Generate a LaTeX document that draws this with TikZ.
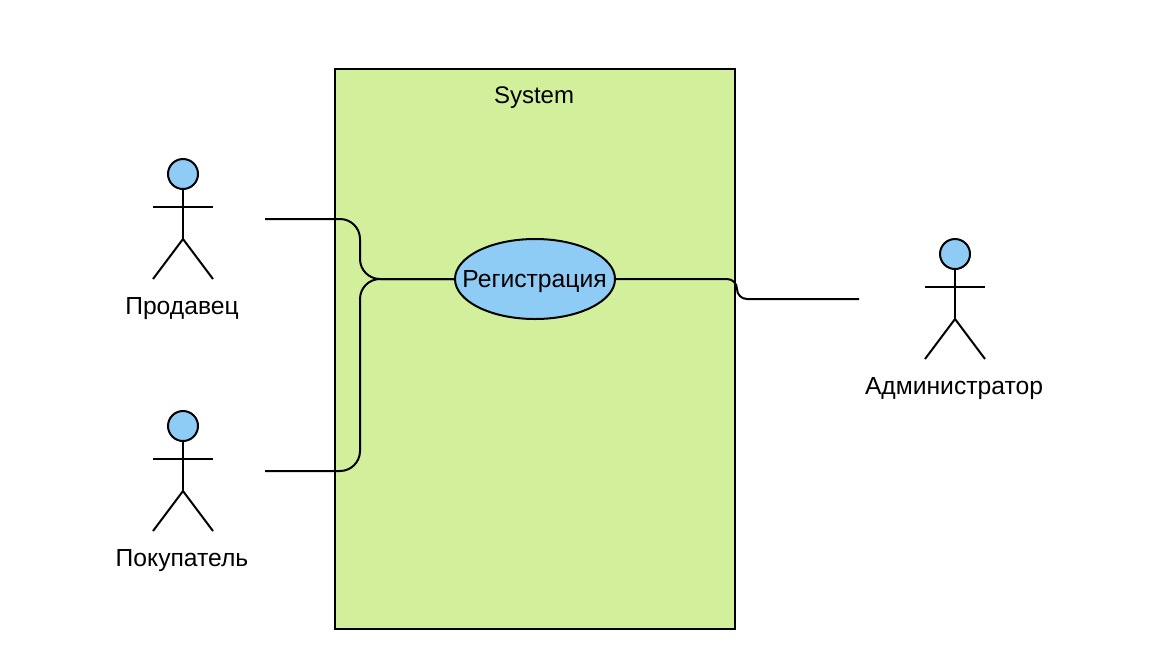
\documentclass[tikz,border=0pt]{standalone}
\usepackage{fontspec}
\setmainfont{Liberation Sans}
\usetikzlibrary{shapes.geometric}
\definecolor{sysgreen}{HTML}{D2F09B}
\definecolor{ublue}{HTML}{8FCCF5}
\tikzset{
  x=0.75pt,y=-0.75pt,
  lbl/.style={font=\fontsize{18.5}{20}\selectfont,inner sep=0pt,text=black},
  wire/.style={draw=black,line width=1.5pt,rounded corners=15pt},
  stick/.style={draw=black,line width=1.5pt},
  head/.style={circle,draw=black,fill=ublue,line width=1.5pt,minimum size=22.5pt,inner sep=0pt},
}
\newcommand{\stickman}[3]{%
  \node[head] (#3h) at (#1,#2) {};
  \coordinate (#3c) at (#1,#2+65);
  \coordinate (#3al) at (#1-30,#2+33);
  \coordinate (#3ar) at (#1+30,#2+33);
  \coordinate (#3ll) at (#1-30,#2+105);
  \coordinate (#3lr) at (#1+30,#2+105);
  \draw[stick] (#3h) -- (#3c);
  \draw[stick] (#3al) -- (#3ar);
  \draw[stick] (#3ll) -- (#3c) -- (#3lr);
}
\begin{document}
\begin{tikzpicture}
\useasboundingbox (0,0) rectangle (1152,668);
\node[draw=black,fill=sysgreen,line width=1.5pt,minimum width=300pt,minimum height=420pt,inner sep=0pt,anchor=north west] (sys) at (334,68) {};
\node[lbl,font=\fontsize{18}{20}\selectfont] (syslabel) at (534,98) {System};
\node[ellipse,draw=black,fill=ublue,line width=1.5pt,minimum width=120pt,minimum height=60pt,inner sep=0pt] (reg) at (535,279) {};
\node[lbl] (reglabel) at (534.5,281.5) {Регистрация};
\stickman{183}{174}{a}
\stickman{183}{426}{b}
\stickman{955}{254}{c}
\node[lbl] (alabel) at (182,308.5) {Продавец};
\node[lbl] (blabel) at (182,560.5) {Покупатель};
\node[lbl] (clabel) at (954,388.5) {Администратор};
\coordinate (p1) at (265,219);
\coordinate (p2) at (265,471);
\coordinate (p3) at (859,299);
\draw[wire] (p1) -- (360,219) -- (360,279) -- (reg.west);
\draw[wire] (p2) -- (360,471) -- (360,279) -- (reg.west);
\draw[wire,rounded corners=7.5pt] (reg.east) -- (737,279) -- (737,299) -- (p3);
\end{tikzpicture}
\end{document}
